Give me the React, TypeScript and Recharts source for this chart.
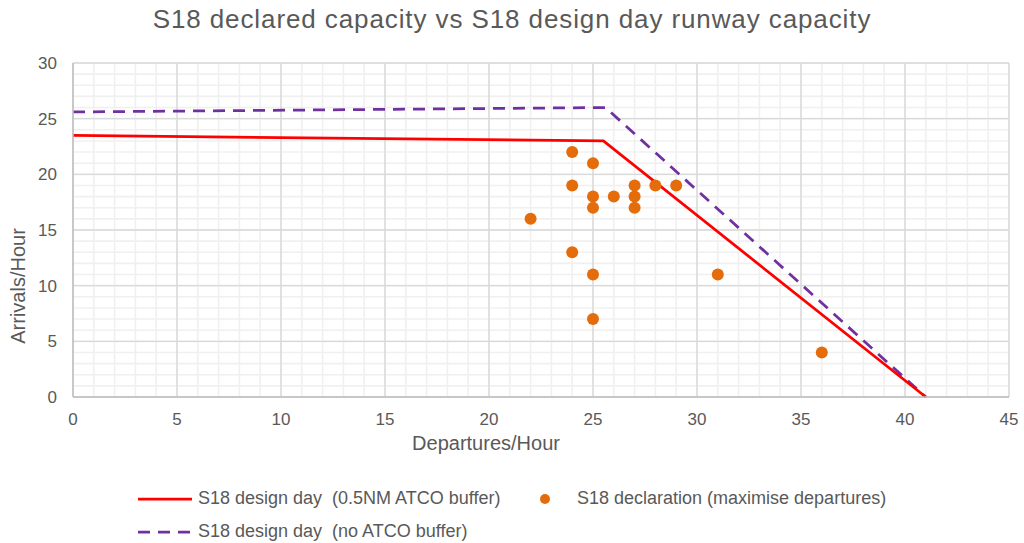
import React from "react";
import {
  ComposedChart,
  Line,
  Scatter,
  XAxis,
  YAxis,
  CartesianGrid,
} from "recharts";

// design day capacity curves (departures, arrivals)
const bufferDepartures = [0, 25.5, 41];
const bufferArrivals = [23.5, 23, 0];
const noBufferDepartures = [0, 25.6, 41];
const noBufferArrivals = [25.6, 26, 0];

// S18 declaration points
const declDepartures = [22, 24, 24, 24, 25, 25, 25, 25, 25, 26, 27, 27, 27, 28, 29, 31, 36];
const declArrivals = [16, 22, 19, 13, 21, 18, 17, 11, 7, 18, 19, 18, 17, 19, 19, 11, 4];

const xTicks = [0, 5, 10, 15, 20, 25, 30, 35, 40, 45];
const yTicks = [0, 5, 10, 15, 20, 25, 30];
const xMinorTicks = Array.from({ length: 46 }, (_, i) => i);
const yMinorTicks = Array.from({ length: 31 }, (_, i) => i);

const legendItems = [
  "S18 design day  (0.5NM ATCO buffer)",
  "S18 declaration (maximise departures)",
  "S18 design day  (no ATCO buffer)",
];

const toPoints = (xs: number[], ys: number[]) => xs.map((x, i) => ({ x, y: ys[i] }));

const bufferData = toPoints(bufferDepartures, bufferArrivals);
const noBufferData = toPoints(noBufferDepartures, noBufferArrivals);
const declData = toPoints(declDepartures, declArrivals);

const FONT = '"Liberation Sans", Arial, sans-serif';
const TEXT = "#595959";
const RED = "#FF0000";
const PURPLE = "#7030A0";
const ORANGE = "#E46C0A";

const XTitle = (props: any) => {
  const { x, y, width } = props.viewBox;
  return (
    <text x={x + width / 2 - 55} y={y + 53} textAnchor="middle" fill={TEXT} fontSize={20} fontFamily={FONT}>
      Departures/Hour
    </text>
  );
};

const YTitle = (props: any) => {
  const { y, height } = props.viewBox;
  const cx = 18;
  const cy = y + height / 2 + 56;
  return (
    <text
      x={cx}
      y={cy}
      transform={`rotate(-90, ${cx}, ${cy})`}
      textAnchor="middle"
      dominantBaseline="central"
      fill={TEXT}
      fontSize={20}
      fontFamily={FONT}
    >
      Arrivals/Hour
    </text>
  );
};

const Dot = (props: any) => <circle cx={props.cx} cy={props.cy} r={6} fill={ORANGE} />;

export default function App() {
  return (
    <div style={{ position: "absolute", left: 0, top: 0, width: 1024, height: 543, background: "#fff", fontFamily: FONT }}>
      <div
        style={{
          position: "absolute",
          left: 512,
          top: 4,
          transform: "translateX(-50%)",
          whiteSpace: "nowrap",
          fontSize: 26,
          letterSpacing: 0.9,
          lineHeight: "30px",
          color: TEXT,
        }}
      >
        S18 declared capacity vs S18 design day runway capacity
      </div>

      <ComposedChart width={1024} height={543} margin={{ top: 63, right: 15, bottom: 86, left: 0 }}>
        <XAxis
          type="number"
          dataKey="x"
          domain={[0, 45]}
          ticks={xTicks}
          interval={0}
          tickLine={false}
          axisLine={{ stroke: "#BFBFBF", strokeWidth: 1.5 }}
          tick={{ fill: TEXT, fontSize: 17, fontFamily: FONT }}
          tickMargin={10}
          height={60}
          label={{ content: XTitle }}
        />
        <YAxis
          type="number"
          dataKey="y"
          domain={[0, 30]}
          ticks={yTicks}
          interval={0}
          tickLine={false}
          axisLine={{ stroke: "#BFBFBF", strokeWidth: 1.5 }}
          tick={{ fill: TEXT, fontSize: 17, fontFamily: FONT }}
          tickMargin={10}
          width={73}
          label={{ content: YTitle }}
        />
        <CartesianGrid verticalValues={xMinorTicks} horizontalValues={yMinorTicks} stroke="#F0F0F0" strokeWidth={1.6} />
        <CartesianGrid stroke="#D9D9D9" strokeWidth={1.4} />
        <Line
          data={noBufferData}
          dataKey="y"
          type="linear"
          stroke={PURPLE}
          strokeWidth={2.75}
          strokeDasharray="12 8"
          dot={false}
          isAnimationActive={false}
        />
        <Line
          data={bufferData}
          dataKey="y"
          type="linear"
          stroke={RED}
          strokeWidth={2.75}
          dot={false}
          isAnimationActive={false}
        />
        <Scatter data={declData} dataKey="y" shape={Dot} isAnimationActive={false} />
      </ComposedChart>

      <div style={{ position: "absolute", left: 0, top: 484, width: 1024, height: 60, fontSize: 18, color: TEXT }}>
        <svg style={{ position: "absolute", left: 0, top: 0 }} width={1024} height={60}>
          <line x1={138} y1={15} x2={192} y2={15} stroke={RED} strokeWidth={2.75} />
          <circle cx={545} cy={15} r={5} fill={ORANGE} />
          <line x1={138} y1={48} x2={192} y2={48} stroke={PURPLE} strokeWidth={2.75} strokeDasharray="12 8" />
        </svg>
        <div style={{ position: "absolute", left: 198, top: 4, whiteSpace: "pre" }}>{legendItems[0]}</div>
        <div style={{ position: "absolute", left: 577, top: 4, whiteSpace: "pre" }}>{legendItems[1]}</div>
        <div style={{ position: "absolute", left: 198, top: 37, whiteSpace: "pre" }}>{legendItems[2]}</div>
      </div>
    </div>
  );
}
